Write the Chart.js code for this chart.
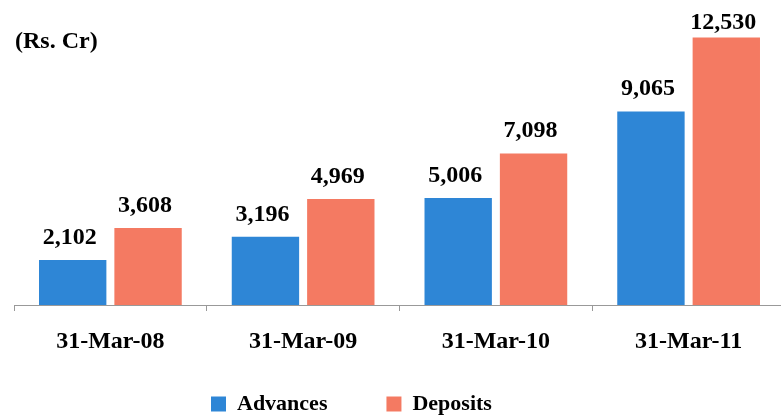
<!DOCTYPE html>
<html>
<head>
<meta charset="utf-8">
<script src="https://cdn.jsdelivr.net/npm/chart.js@4/dist/chart.umd.min.js"></script>
<style>
  html, body { margin: 0; padding: 0; background: #fff; overflow: hidden; }
  #wrap { width: 788px; height: 416px; }
</style>
</head>
<body>
<div id="wrap"><canvas id="c" width="788" height="416"></canvas></div>
<script>
// Balance sheet growth, figures in Rs. crore
const categories = ['31-Mar-08', '31-Mar-09', '31-Mar-10', '31-Mar-11'];
const advances = [2102, 3196, 5006, 9065];
const deposits = [3608, 4969, 7098, 12530];
const seriesNames = ['Advances', 'Deposits'];
const unitLabel = '(Rs. Cr)';

const SERIF = '"Liberation Serif", "Times New Roman", serif';
const BLUE = 'rgb(46,134,214)';
const SALMON = 'rgb(244,122,98)';

// Value labels above each bar (kept inside the plot at the top) plus the unit caption
const barLabels = {
  id: 'barLabels',
  afterDatasetsDraw(chart) {
    const ctx = chart.ctx;
    const area = chart.chartArea;
    ctx.save();
    ctx.font = 'bold 24px ' + SERIF;
    ctx.fillStyle = '#000';
    ctx.textAlign = 'center';
    ctx.textBaseline = 'alphabetic';
    chart.data.datasets.forEach((ds, di) => {
      chart.getDatasetMeta(di).data.forEach((bar, i) => {
        const y = Math.max(bar.y - 16, area.top + 23);
        ctx.fillText(ds.data[i].toLocaleString('en-US'), bar.x - 3, y);
      });
    });
    ctx.textAlign = 'left';
    ctx.textBaseline = 'middle';
    ctx.fillText(unitLabel, area.left + 1, 42);
    ctx.restore();
  }
};

// Place the legend row under the left part of the plot, close to the axis labels
const legendPlacement = {
  id: 'legendPlacement',
  afterLayout(chart) {
    const lg = chart.legend;
    if (lg) {
      lg.left = 152;
      lg.top = 334;
    }
  }
};

new Chart(document.getElementById('c'), {
  type: 'bar',
  data: {
    labels: categories,
    datasets: [
      { label: seriesNames[0], data: advances, backgroundColor: BLUE, borderWidth: 0 },
      { label: seriesNames[1], data: deposits, backgroundColor: SALMON, borderWidth: 0 }
    ]
  },
  options: {
    responsive: false,
    animation: false,
    devicePixelRatio: 1,
    layout: { padding: { left: 14, right: 3, top: 6, bottom: 0 } },
    datasets: { bar: { categoryPercentage: 0.782, barPercentage: 0.894 } },
    scales: {
      x: {
        grid: { display: true, offset: true, drawOnChartArea: false, drawTicks: true, tickLength: 6, color: '#999', lineWidth: 1 },
        border: { display: true, color: '#999', width: 1 },
        ticks: { color: '#000', padding: 16, font: { family: SERIF, size: 24, weight: 'bold' } },
        afterFit(scale) { scale.height = 55; }
      },
      y: { display: false, min: 0, max: 14000 }
    },
    plugins: {
      legend: {
        position: 'bottom',
        align: 'start',
        maxHeight: 56,
        labels: {
          boxWidth: 15, boxHeight: 15, padding: 59, color: '#000',
          font: { family: SERIF, size: 22, weight: 'bold' }
        }
      },
      tooltip: { enabled: false }
    }
  },
  plugins: [barLabels, legendPlacement]
});
</script>
</body>
</html>
